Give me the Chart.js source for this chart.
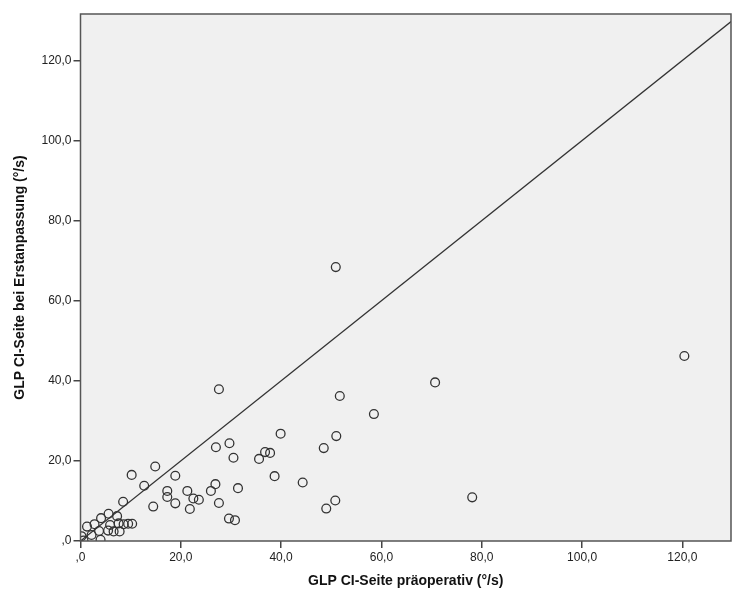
<!DOCTYPE html>
<html>
<head>
<meta charset="utf-8">
<script src="https://cdn.jsdelivr.net/npm/chart.js@4.4.0/dist/chart.umd.min.js"></script>
<style>
  html, body { margin: 0; padding: 0; background: #ffffff; }
  #wrap { width: 732px; height: 597px; }
</style>
</head>
<body>
<div id="wrap"><canvas id="chart" width="732" height="597"></canvas></div>
<script>
// GLP CI-Seite: präoperativ (x) vs. bei Erstanpassung (y), °/s
var praeop = [
    0.2, 0.6, 1.3, 2.2, 2.8, 3.7, 4.0, 4.1, 5.6, 7.3,
    5.9, 7.6, 5.5, 6.6, 7.8, 8.6, 9.5, 10.3, 8.5, 10.2,
    12.7, 14.9, 14.5, 17.3, 17.3, 18.9, 18.9, 21.3, 22.5, 23.6,
    21.8, 26.0, 26.9, 27.0, 27.6, 27.6, 29.7, 30.5, 31.4, 29.6,
    30.8, 35.6, 36.8, 37.8, 38.7, 39.9, 44.3, 48.5, 49.0, 50.8,
    51.0, 51.7, 50.9, 58.5, 70.7, 78.1, 120.4
];
var erstanpassung = [
    1.2, 0.1, 3.6, 1.5, 4.2, 2.5, 0.3, 5.7, 6.8, 6.2,
    4.0, 4.4, 2.6, 2.4, 2.4, 4.2, 4.3, 4.3, 9.8, 16.5,
    13.8, 18.6, 8.6, 12.5, 11.0, 16.3, 9.4, 12.5, 10.6, 10.3,
    8.0, 12.5, 14.2, 23.4, 9.5, 37.9, 24.4, 20.8, 13.2, 5.6,
    5.2, 20.5, 22.2, 22.0, 16.2, 26.8, 14.6, 23.2, 8.1, 10.1,
    26.2, 36.2, 68.4, 31.7, 39.6, 10.9, 46.2
];
var diagonale = [0, 130];
var xTicks = [0, 20, 40, 60, 80, 100, 120];
var yTicks = [0, 20, 40, 60, 80, 100, 120];

function fmt(v) {
    return v === 0 ? ',0' : v.toFixed(1).replace('.', ',');
}

var frame = {
    id: 'frame',
    beforeDraw: function (c) {
        var a = c.chartArea, ctx = c.ctx;
        ctx.save();
        ctx.fillStyle = '#f0f0f0';
        ctx.fillRect(a.left, a.top, a.right - a.left, a.bottom - a.top);
        ctx.restore();
    },
    afterDraw: function (c) {
        var a = c.chartArea, ctx = c.ctx;
        ctx.save();
        ctx.strokeStyle = '#555555';
        ctx.lineWidth = 1.5;
        ctx.strokeRect(a.left, a.top, a.right - a.left, a.bottom - a.top);
        ctx.restore();
    }
};

var font = "'Liberation Sans', Arial, sans-serif";

new Chart(document.getElementById('chart').getContext('2d'), {
    type: 'scatter',
    data: {
        datasets: [
            {
                label: 'Fälle',
                data: praeop.map(function (x, i) { return { x: x, y: erstanpassung[i] }; }),
                pointStyle: 'circle',
                pointRadius: 4.4,
                pointBorderWidth: 1.3,
                pointBackgroundColor: 'rgba(0,0,0,0)',
                pointBorderColor: '#333333'
            },
            {
                label: 'Diagonale',
                type: 'line',
                data: diagonale.map(function (v) { return { x: v, y: v }; }),
                borderColor: '#333333',
                borderWidth: 1.2,
                pointRadius: 0,
                fill: false
            }
        ]
    },
    options: {
        responsive: false,
        animation: false,
        layout: { autoPadding: false, padding: { left: 0, top: 14, right: 1, bottom: 0 } },
        plugins: { legend: { display: false }, tooltip: { enabled: false } },
        scales: {
            x: {
                type: 'linear',
                min: 0,
                max: 129.7,
                afterBuildTicks: function (s) { s.ticks = xTicks.map(function (v) { return { value: v }; }); },
                afterFit: function (s) { s.height = 56; s.paddingLeft = 0; s.paddingRight = 0; },
                grid: { drawOnChartArea: false, drawTicks: true, tickLength: 7, color: '#444444', lineWidth: 1.5 },
                border: { display: false },
                ticks: {
                    color: '#222222', padding: 2, maxRotation: 0,
                    font: { family: font, size: 12 },
                    callback: function (v) { return fmt(v); }
                },
                title: {
                    display: true,
                    text: 'GLP CI-Seite präoperativ (°/s)',
                    color: '#111111',
                    font: { family: font, size: 14, weight: 'bold' },
                    padding: { top: 0, bottom: 7 }
                }
            },
            y: {
                type: 'linear',
                min: 0,
                max: 131.6,
                afterBuildTicks: function (s) { s.ticks = yTicks.map(function (v) { return { value: v }; }); },
                afterFit: function (s) { s.width = 80.5; s.paddingTop = 0; s.paddingBottom = 0; },
                grid: { drawOnChartArea: false, drawTicks: true, tickLength: 7, color: '#444444', lineWidth: 1.5 },
                border: { display: false },
                ticks: {
                    color: '#222222', padding: 2,
                    font: { family: font, size: 12 },
                    callback: function (v) { return fmt(v); }
                },
                title: {
                    display: true,
                    text: 'GLP CI-Seite bei Erstanpassung (°/s)',
                    color: '#111111',
                    font: { family: font, size: 14, weight: 'bold' },
                    padding: { top: 12, bottom: 0 }
                }
            }
        }
    },
    plugins: [frame]
});
</script>
</body>
</html>
